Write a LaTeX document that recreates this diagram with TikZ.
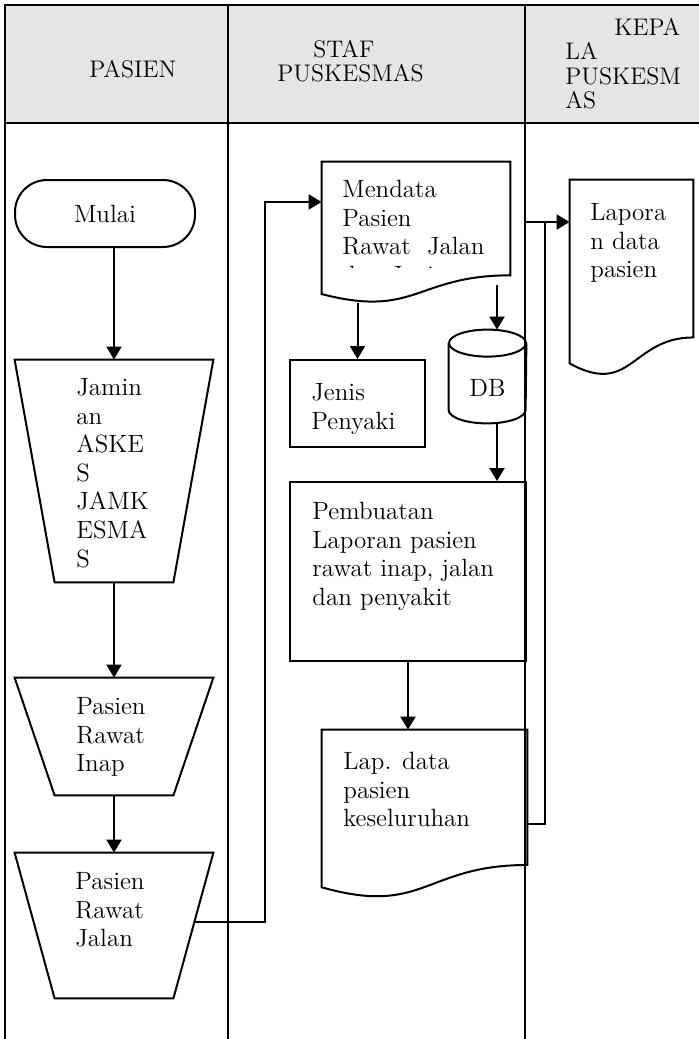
\documentclass[tikz,border=0pt]{standalone}
\usetikzlibrary{arrows.meta,calc}

\tikzset{
  ln/.style={line width=1pt},
  arr/.style={line width=1pt,-{Triangle[length=6.5pt,width=7.5pt]}},
  area/.style 2 args={inner sep=0pt,minimum width=#1,minimum height=#2},
  txt/.style={inner sep=0pt,anchor=north west,align=left,
    font=\fontsize{12.5}{14.3}\selectfont},
  head/.style={inner sep=0pt,anchor=north west,align=left,
    font=\fontsize{12}{12.2}\selectfont},
}

% document symbol drawn on a named node
\newcommand{\docshape}[1]{%
  \draw[ln] (#1.north west) -- (#1.north east)
    -- ($(#1.north east)!0.802!(#1.south east)$)
    .. controls ($(#1.north)!0.802!(#1.south)$) and ($(#1.north)!1.107!(#1.south)$)
    .. ($(#1.north west)!0.934!(#1.south west)$) -- cycle;}
% trapezium (wide top) drawn on a named node
\newcommand{\trapshape}[2]{%
  \draw[ln] (#1.north west) -- (#1.north east)
    -- ($(#1.south east)+(-#2,0)$) -- ($(#1.south west)+(#2,0)$) -- cycle;}

\begin{document}
\begin{tikzpicture}[x=0.5pt,y=-0.5pt]
  \useasboundingbox (0,0) rectangle (699,1039);

  % Lanes
  \fill[black!10] (5,5) rectangle (699,123);
  \draw[ln] (699,5) -- (5,5) -- (5,1039);
  \draw[ln] (5,123) -- (699,123);
  \draw[ln] (228,5) -- (228,1039);
  \draw[ln] (525,5) -- (525,1039);

  % Lane titles
  \node[head] (hpasien) at (89,60) {PASIEN};
  \node[head] (hstaf) at (277,40) {\hspace*{18pt}STAF\\PUSKESMAS};
  \node[head] (hkepala) at (565,18) {\hspace*{24.5pt}KEPA\\LA\\PUSKESM\\AS};

  % Pasien
  \node[draw,ln,rounded corners=16pt,area={90pt}{33.5pt},
    font=\fontsize{12.5}{14.3}\selectfont] (mulai) at (105,213.5) {Mulai};
  \node[area={99pt}{111pt}] (jamin) at (114,471) {};
  \trapshape{jamin}{40}
  \node[txt] (jamin-t) at (76,378) {Jamin\\an\\ASKE\\S\\JAMK\\ESMA\\S};
  \node[area={99pt}{58.5pt}] (inap) at (114,736.5) {};
  \trapshape{inap}{40}
  \node[txt] (inap-t) at (76,697) {Pasien\\Rawat\\Inap};
  \node[area={99pt}{72.5pt}] (jalan) at (114,925.5) {};
  \trapshape{jalan}{40}
  \node[txt] (jalan-t) at (75,872) {Pasien\\Rawat\\Jalan};

  % Staf puskesmas
  \node[area={94pt}{70.5pt}] (mendata) at (416,232.5) {};
  \docshape{mendata}
  \begin{scope}
    \clip (322,162) rectangle (510,267);
    \node[txt] (mendata-t) at (342,180) {Mendata\\Pasien\\Rawat\ \ Jalan\\dan Jenis};
  \end{scope}
  \node[draw,ln,area={67.5pt}{43.5pt}] (jenis) at (357.5,403.5) {};
  \node[txt] (jenis-t) at (311,383) {Jenis\\Penyaki};
  \node[area={38.5pt}{46.5pt}] (db) at (487.5,376.5) {};
  \draw[ln] ($(db.north west)+(0,13.5)$) -- ($(db.south west)+(0,-13.5)$)
    arc[start angle=180,end angle=0,x radius=38.5,y radius=13.5]
    -- ($(db.north east)+(0,13.5)$);
  \draw[ln] ($(db.north)+(0,13.5)$) ellipse[x radius=38.5,y radius=13.5];
  \node[font=\fontsize{12.5}{14.3}\selectfont] (db-t) at (487.5,388) {DB};
  \node[draw,ln,area={118pt}{89.5pt}] (pemb) at (408,571.5) {};
  \node[txt] (pemb-t) at (312,502) {Pembuatan\\Laporan pasien\\rawat inap, jalan\\dan penyakit};
  \node[area={102.5pt}{84pt}] (lapdata) at (424.5,814) {};
  \docshape{lapdata}
  \node[txt] (lapdata-t) at (343,752) {Lap. data\\pasien\\keseluruhan};

  % Kepala puskesmas
  \node[area={61.5pt}{98pt}] (laporan) at (631.5,278) {};
  \docshape{laporan}
  \node[txt] (laporan-t) at (590,203) {Lapora\\n data\\pasien};

  % Arrows
  \draw[arr] (mulai.south -| jamin.north) -- (jamin.north);
  \draw[arr] (jamin) -- (inap);
  \draw[arr] (inap) -- (jalan);
  \coordinate (jalan-out) at (194,922);
  \coordinate (bend1) at (265,202);
  \draw[arr] (jalan-out) -| (bend1) -- (bend1 -| mendata.west);
  \draw[arr] (jenis.north |- mendata.south) -- (jenis.north);
  \coordinate (dbin) at (497,285);
  \draw[arr] (dbin) -- (dbin |- db.north);
  \draw[arr] (dbin |- db.south) -- (dbin |- pemb.north);
  \draw[arr] (pemb.south) -- (pemb.south |- lapdata.north);
  \coordinate (bend2) at (545,222);
  \draw[arr] ($(lapdata.north east)+(0,94)$) -| (bend2) -- (bend2 -| laporan.west);
  \draw[ln] (525,222) -- (bend2);
\end{tikzpicture}
\end{document}
